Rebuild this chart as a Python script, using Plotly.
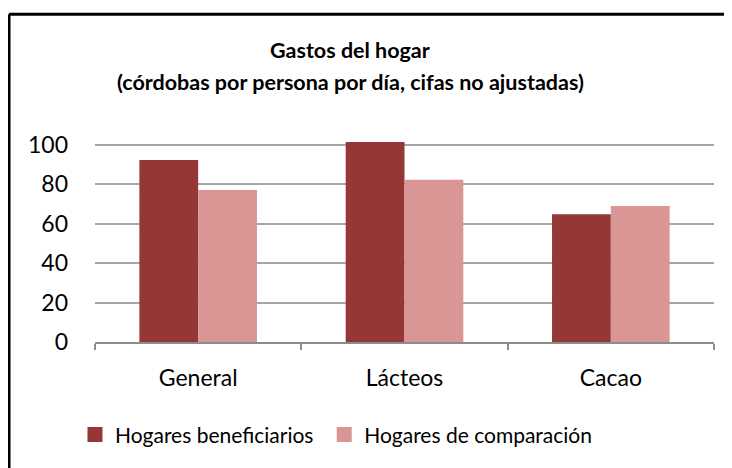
import plotly.graph_objects as go

categorias = ["General", "Lácteos", "Cacao"]
beneficiarios = [92.2, 101.4, 64.8]
comparacion = [77.0, 82.3, 68.9]
y_ticks = [0, 20, 40, 60, 80, 100]

dark_red = "#953735"
light_red = "#D99694"
font_name = "Lato"

fig = go.Figure()
fig.add_trace(go.Bar(x=categorias, y=beneficiarios, name="Hogares beneficiarios",
                     marker=dict(color=dark_red, line=dict(width=0)), showlegend=False))
fig.add_trace(go.Bar(x=categorias, y=comparacion, name="Hogares de comparación",
                     marker=dict(color=light_red, line=dict(width=0)), showlegend=False))

# legend entries with bigger square swatches, one legend each
fig.add_trace(go.Scatter(x=[None], y=[None], mode="markers", name="Hogares beneficiarios",
                         marker=dict(symbol="square", size=15, color=dark_red), legend="legend"))
fig.add_trace(go.Scatter(x=[None], y=[None], mode="markers", name="Hogares de comparación",
                         marker=dict(symbol="square", size=15, color=light_red), legend="legend2"))

title_font = dict(family=font_name, size=21.5, color="black")
legend_common = dict(orientation="h", xref="container", yref="container", xanchor="left",
                     y=0.088, yanchor="middle", font=dict(size=21), itemwidth=30,
                     bgcolor="rgba(0,0,0,0)")

fig.update_layout(
    width=732, height=468,
    margin=dict(l=87, r=26, t=117, b=134),
    paper_bgcolor="white", plot_bgcolor="white",
    barmode="group", bargap=0.43, bargroupgap=0,
    font=dict(family=font_name, color="black", size=20),
    legend=dict(x=0.0915, **legend_common),
    legend2=dict(x=0.432, **legend_common),
    annotations=[
        dict(text="<b>Gastos del hogar</b>", xref="paper", yref="paper",
             x=0.412, y=1.346, xanchor="center", yanchor="middle", showarrow=False, font=title_font),
        dict(text="<b>(córdobas por persona por día, cifas no ajustadas)</b>", xref="paper", yref="paper",
             x=0.412, y=1.198, xanchor="center", yanchor="middle", showarrow=False, font=title_font),
    ],
    shapes=[
        dict(type="line", xref="paper", yref="paper", x0=-0.1389, x1=-0.1389, y0=1.51, y1=-0.7,
             line=dict(color="black", width=3)),
        dict(type="line", xref="paper", yref="paper", x0=-0.1389, x1=1.1, y0=1.51, y1=1.51,
             line=dict(color="black", width=3)),
    ],
)

fig.update_xaxes(showline=True, linecolor="#8C8C8C", linewidth=2,
                 ticks="outside", tickson="boundaries", ticklen=6, tickwidth=2, tickcolor="#8C8C8C",
                 tickfont=dict(size=23), ticklabelstandoff=14, showgrid=False)
fig.update_yaxes(range=[0, 110], tickvals=y_ticks, showgrid=True, gridcolor="#A6A6A6", gridwidth=1.5,
                 zeroline=False, showline=False, ticks="", tickfont=dict(size=23),
                 ticklabelstandoff=26)

fig.write_html("out.html")
